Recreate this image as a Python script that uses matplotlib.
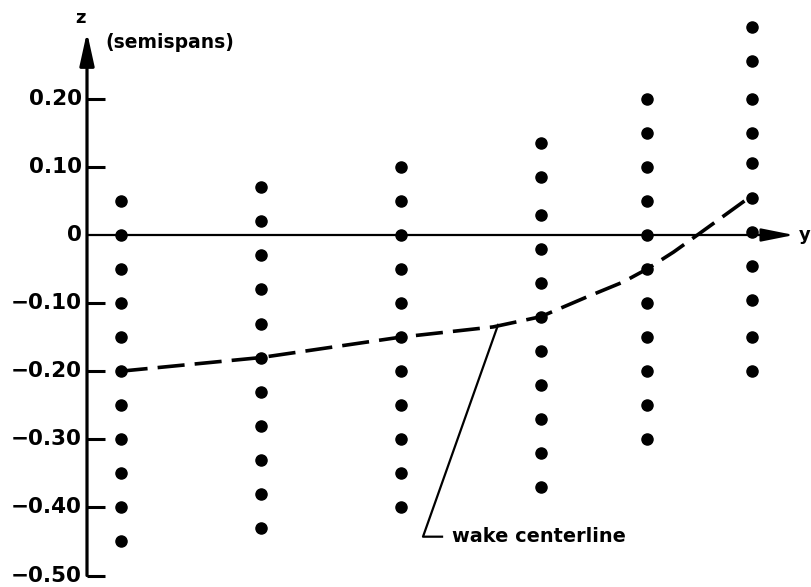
import numpy as np
from matplotlib import pyplot as plt

# survey stations along the span (arbitrary spacing units) and the z of each probe point
stations = [0.24, 1.24, 2.24, 3.24, 4.0, 4.75]
z_points = [
    [0.05, 0.0, -0.05, -0.10, -0.15, -0.20, -0.25, -0.30, -0.35, -0.40, -0.45],
    [0.07, 0.02, -0.03, -0.08, -0.13, -0.18, -0.23, -0.28, -0.33, -0.38, -0.43],
    [0.10, 0.05, 0.0, -0.05, -0.10, -0.15, -0.20, -0.25, -0.30, -0.35, -0.40],
    [0.135, 0.085, 0.03, -0.02, -0.07, -0.12, -0.17, -0.22, -0.27, -0.32, -0.37],
    [0.20, 0.15, 0.10, 0.05, 0.0, -0.05, -0.10, -0.15, -0.20, -0.25, -0.30],
    [0.305, 0.255, 0.20, 0.15, 0.105, 0.055, 0.005, -0.045, -0.095, -0.15, -0.20],
]

# wake centerline
wake_x = [0.24, 1.24, 2.24, 2.90, 3.24, 3.57, 3.83, 4.0, 4.19, 4.36, 4.75]
wake_z = [-0.20, -0.18, -0.15, -0.135, -0.12, -0.091, -0.069, -0.05, -0.025, 0.0, 0.058]

z_ticks = [0.20, 0.10, 0.0, -0.10, -0.20, -0.30, -0.40, -0.50]
z_labels = ['0.20', '0.10', '0', '\u22120.10', '\u22120.20', '\u22120.30', '\u22120.40', '\u22120.50']

fig = plt.figure(figsize=(8.11, 5.87), dpi=100)
ax = fig.add_axes([0, 0, 1, 1])
ax.set_xlim(-87 / 140, (811 - 87) / 140)
ax.set_ylim(-(587 - 235) / 681, 235 / 681)
ax.axis('off')

# axes drawn by hand
ax.annotate('', xy=(0, 0.298), xytext=(0, -0.50),
            arrowprops=dict(arrowstyle='-|>,head_length=1.0,head_width=0.22',
                            mutation_scale=20, lw=2.3, color='black',
                            shrinkA=0, shrinkB=0))
ax.annotate('', xy=(5.05, 0), xytext=(0, 0),
            arrowprops=dict(arrowstyle='-|>,head_length=1.0,head_width=0.2',
                            mutation_scale=20, lw=1.6, color='black',
                            shrinkA=0, shrinkB=0))

tick_len = 18 / 140
for zt, lab in zip(z_ticks, z_labels):
    if zt != 0:
        ax.plot([0, tick_len], [zt, zt], color='black', lw=2.2, solid_capstyle='butt')
    ax.text(-0.036, zt, lab, ha='right', va='center', fontsize=15.5,
            fontweight='bold', family='DejaVu Sans')

ax.text(-0.043, 0.318, 'z', ha='center', va='center', fontsize=13, fontweight='bold')
ax.text(0.13, 0.283, '(semispans)', ha='left', va='center', fontsize=13.5, fontweight='bold')
ax.text(5.085, 0.0, 'y', ha='left', va='center', fontsize=13, fontweight='bold')

# probe points
for xs, zs in zip(stations, z_points):
    ax.plot(np.full(len(zs), xs), zs, 'o', color='black', ms=8, ls='none')

ax.plot(wake_x, wake_z, color='black', lw=2.6, dashes=(7.5, 2.8))

# leader to the label
ax.plot([2.936, 2.40, 2.536], [-0.132, -0.443, -0.443], color='black', lw=1.6)
ax.text(2.607, -0.443, 'wake centerline', ha='left', va='center',
        fontsize=13.9, fontweight='bold')

plt.savefig('out.png', dpi=100)
